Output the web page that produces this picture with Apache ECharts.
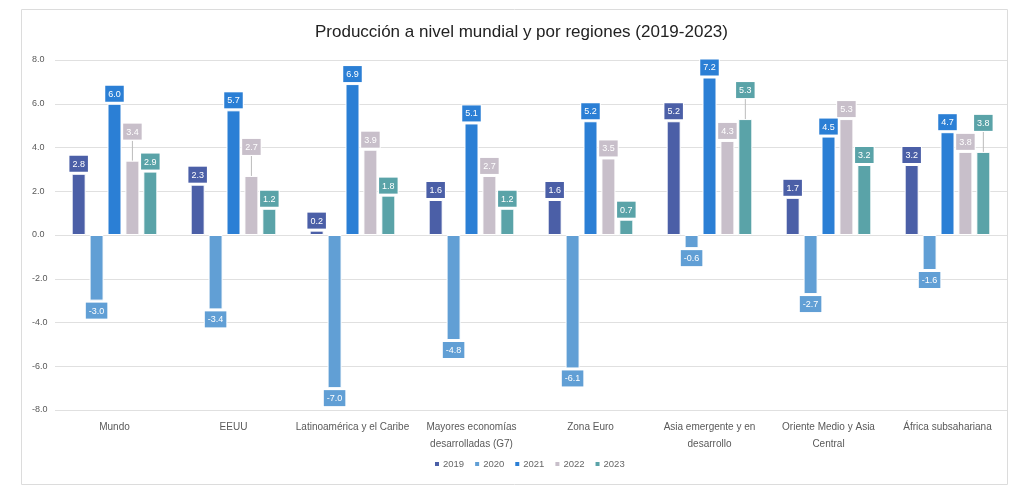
<!DOCTYPE html>
<html>
<head>
<meta charset="utf-8">
<script src="https://cdn.jsdelivr.net/npm/echarts@6/dist/echarts.min.js"></script>
<style>
  html, body { margin: 0; padding: 0; background: #fff; }
  #chart { width: 1026px; height: 486px; }
</style>
</head>
<body>
<div id="chart"></div>
<script>
const categories = [
  'Mundo', 'EEUU', 'Latinoamérica y el Caribe', 'Mayores economías\ndesarrolladas (G7)',
  'Zona Euro', 'Asia emergente y en\ndesarrollo', 'Oriente Medio y Asia\nCentral', 'África subsahariana'
]
const years = ['2019', '2020', '2021', '2022', '2023']
const v2019 = [2.8, 2.3, 0.2, 1.6, 1.6, 5.2, 1.7, 3.2]
const v2020 = [-3.0, -3.4, -7.0, -4.8, -6.1, -0.6, -2.7, -1.6]
const v2021 = [6.0, 5.7, 6.9, 5.1, 5.2, 7.2, 4.5, 4.7]
const v2022 = [3.4, 2.7, 3.9, 2.7, 3.5, 4.3, 5.3, 3.8]
const v2023 = [2.9, 1.2, 1.8, 1.2, 0.7, 5.3, 3.2, 3.8]
const yTicks = { min: -8, max: 8, interval: 2 }

const colors = ['#4b5fa7', '#619fd5', '#2b7fd5', '#c8bfca', '#5aa3a8']
const seriesValues = [v2019, v2020, v2021, v2022, v2023]

// labels that Excel pushed upward (series index, category index)
const liftedLabels = [[3, 0], [3, 1], [4, 5], [4, 7]]
const isLifted = (s, d) => liftedLabels.some(p => p[0] === s && p[1] === d)

const chart = echarts.init(document.getElementById('chart'))

chart.setOption({
  animation: false,
  color: colors,
  textStyle: { fontFamily: 'Liberation Sans, Arial, sans-serif' },
  title: {
    text: 'Producción a nivel mundial y por regiones (2019-2023)',
    left: 310,
    top: 19,
    textStyle: { fontSize: 17, fontWeight: 'normal', color: '#222' }
  },
  graphic: [{
    type: 'rect',
    shape: { x: 21.5, y: 9.5, width: 986, height: 475 },
    style: { fill: 'none', stroke: '#dcdcdc', lineWidth: 1 },
    silent: true
  }],
  legend: {
    bottom: 12,
    left: 428,
    itemWidth: 6,
    itemHeight: 6,
    itemGap: 9,
    icon: 'rect',
    textStyle: { fontSize: 9.5, color: '#666', padding: [0, 0, 0, -2] },
    data: years
  },
  grid: { left: 55, right: 19, top: 60, bottom: 76 },
  xAxis: {
    type: 'category',
    data: categories,
    axisLine: { show: false, onZero: false },
    axisTick: { show: false },
    axisLabel: { color: '#595959', fontSize: 10, margin: 9, lineHeight: 17, interval: 0 }
  },
  yAxis: {
    type: 'value',
    min: yTicks.min,
    max: yTicks.max,
    interval: yTicks.interval,
    axisLine: { show: false },
    axisTick: { show: false },
    axisLabel: {
      color: '#595959',
      fontSize: 9,
      margin: 23,
      align: 'left',
      formatter: v => v.toFixed(1)
    },
    splitLine: { lineStyle: { color: '#e0e0e0' } }
  },
  labelLayout: function (params) {
    return isLifted(params.seriesIndex, params.dataIndex) ? { dy: -19 } : {}
  },
  series: seriesValues.map((vals, i) => ({
    name: years[i],
    type: 'bar',
    data: vals.map((v, j) => isLifted(i, j) ? { value: v, labelLine: { show: true } } : v),
    barWidth: 14,
    barGap: '28%',
    itemStyle: { borderColor: '#fff', borderWidth: 1 },
    labelLine: { show: false, lineStyle: { color: '#bbb', width: 1 } },
    label: {
      show: true,
      position: i === 1 ? 'bottom' : 'top',
      distance: 2,
      formatter: p => p.value.toFixed(1),
      color: '#fff',
      fontSize: 9,
      backgroundColor: colors[i],
      borderColor: '#fff',
      borderWidth: 1,
      padding: [4, 3, 3, 3]
    }
  }))
})
</script>
</body>
</html>
